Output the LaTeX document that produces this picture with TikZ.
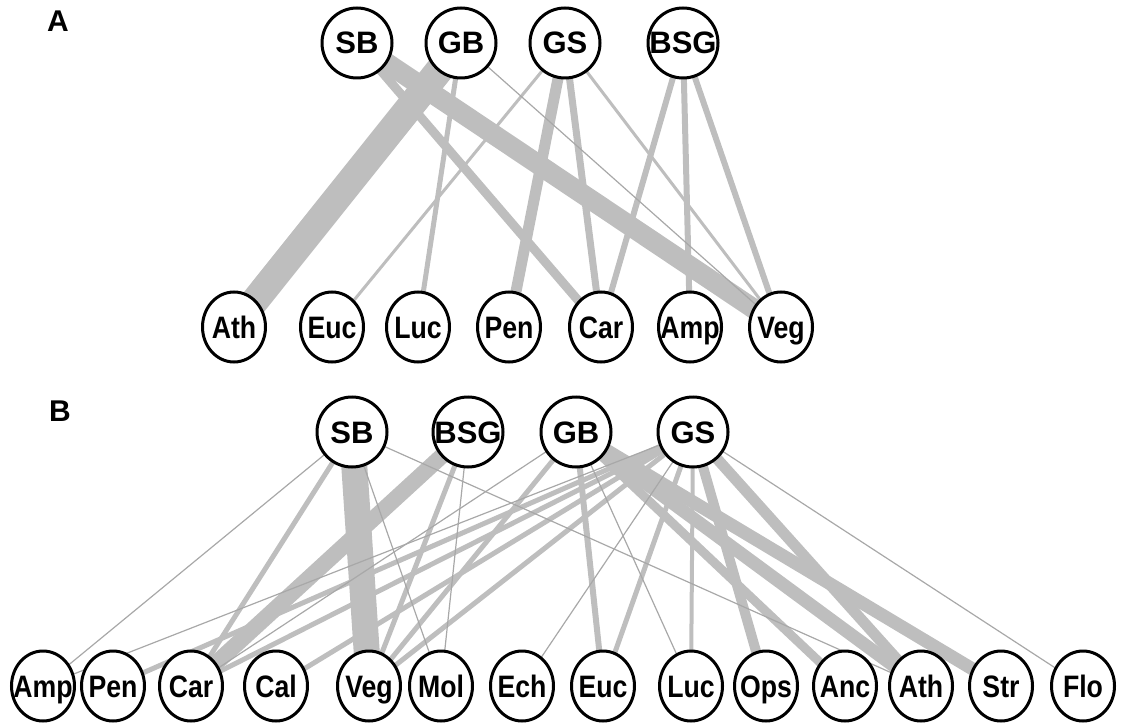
\documentclass[tikz,border=0pt]{standalone}
\usepackage{fontspec}
\setmainfont{Liberation Sans}
\usetikzlibrary{shapes.geometric}
\pgfdeclarelayer{background}
\pgfsetlayers{background,main}
\definecolor{edgegray}{HTML}{BEBEBE}
\definecolor{thingray}{HTML}{A8A8A8}
\newcommand\lab{\bfseries\fontsize{31}{33}\selectfont}
\newcommand\sq[1]{\makebox[0pt]{\scalebox{0.86}[1]{#1}}}
\newcommand\tp[1]{\makebox[0pt]{#1}}
\tikzset{
  topnode/.style={circle, draw=black, line width=3pt, fill=white, minimum size=70pt, inner sep=0pt, font=\lab, text height=22pt, text depth=0pt},
  botnode/.style={ellipse, draw=black, line width=3pt, fill=white, minimum width=63pt, minimum height=70pt, inner sep=0pt, font=\lab, text height=22pt, text depth=0pt},
  lnk/.style={draw=edgegray, line width=#1},
  thin lnk/.style={draw=thingray, line width=1.2pt},
  panellabel/.style={font=\bfseries\fontsize{30}{32}\selectfont, inner sep=0pt}
}
\begin{document}
\begin{tikzpicture}[x=1pt,y=-1pt]
\useasboundingbox (0,0) rectangle (1145,727);
\node[panellabel] (labA) at (58,21) {A};
\node[panellabel] (labB) at (60,411) {B};
% ---------- panel A ----------
\node[topnode] (aSB) at (357,43) {\tp{SB}};
\node[topnode] (aGB) at (461,43) {\tp{GB}};
\node[topnode] (aGS) at (565,43) {\tp{GS}};
\node[topnode] (aBSG) at (683,43) {\tp{BSG}};
\node[botnode] (aAth) at (234,327) {\sq{Ath}};
\node[botnode] (aEuc) at (332,327) {\sq{Euc}};
\node[botnode] (aLuc) at (418,327) {\sq{Luc}};
\node[botnode] (aPen) at (509,327) {\sq{Pen}};
\node[botnode] (aCar) at (601,327) {\sq{Car}};
\node[botnode] (aAmp) at (690,327) {\sq{Amp}};
\node[botnode] (aVeg) at (781,327) {\sq{Veg}};
% ---------- panel B ----------
\node[topnode] (bSB) at (352,432) {\tp{SB}};
\node[topnode] (bBSG) at (468,432) {\tp{BSG}};
\node[topnode] (bGB) at (576,432) {\tp{GB}};
\node[topnode] (bGS) at (693,432) {\tp{GS}};
\node[botnode] (bAmp) at (43,686) {\sq{Amp}};
\node[botnode] (bPen) at (113,686) {\sq{Pen}};
\node[botnode] (bCar) at (191,686) {\sq{Car}};
\node[botnode] (bCal) at (276,686) {\sq{Cal}};
\node[botnode] (bVeg) at (369,686) {\sq{Veg}};
\node[botnode] (bMol) at (441,686) {\sq{Mol}};
\node[botnode] (bEch) at (522,686) {\sq{Ech}};
\node[botnode] (bEuc) at (603,686) {\sq{Euc}};
\node[botnode] (bLuc) at (691,686) {\sq{Luc}};
\node[botnode] (bOps) at (766,686) {\sq{Ops}};
\node[botnode] (bAnc) at (845,686) {\sq{Anc}};
\node[botnode] (bAth) at (921,686) {\sq{Ath}};
\node[botnode] (bStr) at (1001,686) {\sq{Str}};
\node[botnode] (bFlo) at (1083,686) {\sq{Flo}};
\begin{pgfonlayer}{background}
% panel A edges
\draw[lnk=28pt] (aGB.center) -- (aAth.center);
\draw[lnk=20pt] (aSB.center) -- (aVeg.center);
\draw[lnk=9pt] (aSB.center) -- (aCar.center);
\draw[lnk=5pt] (aGB.center) -- (aLuc.center);
\draw[lnk=3pt] (aGS.center) -- (aEuc.center);
\draw[lnk=11pt] (aGS.center) -- (aPen.center);
\draw[lnk=7pt] (aGS.center) -- (aCar.center);
\draw[lnk=3pt] (aGS.center) -- (aVeg.center);
\draw[lnk=6pt] (aBSG.center) -- (aCar.center);
\draw[lnk=6pt] (aBSG.center) -- (aAmp.center);
\draw[lnk=6pt] (aBSG.center) -- (aVeg.center);
\draw[thin lnk] (aGB.center) -- (aVeg.center);
% panel B edges
\draw[lnk=26pt] (bSB.center) -- (bVeg.center);
\draw[lnk=5pt] (bSB.center) -- (bCar.center);
\draw[lnk=16pt] (bBSG.center) -- (bCar.center);
\draw[lnk=5pt] (bBSG.center) -- (bVeg.center);
\draw[lnk=13pt] (bGB.center) -- (bStr.center);
\draw[lnk=13pt] (bGB.center) -- (bAth.center);
\draw[lnk=9pt] (bGB.center) -- (bAnc.center);
\draw[lnk=6pt] (bGB.center) -- (bEuc.center);
\draw[lnk=5pt] (bGB.center) -- (bVeg.center);
\draw[lnk=11pt] (bGS.center) -- (bAth.center);
\draw[lnk=10pt] (bGS.center) -- (bOps.center);
\draw[lnk=5pt] (bGS.center) -- (bEuc.center);
\draw[lnk=4pt] (bGS.center) -- (bLuc.center);
\draw[lnk=5pt] (bGS.center) -- (bVeg.center);
\draw[lnk=5pt] (bGS.center) -- (bCal.center);
\draw[lnk=5pt] (bGS.center) -- (bCar.center);
\draw[lnk=5pt] (bGS.center) -- (bPen.center);
\draw[thin lnk] (bSB.center) -- (bAmp.center);
\draw[thin lnk] (bSB.center) -- (bMol.center);
\draw[thin lnk] (bSB.center) -- (bAth.center);
\draw[thin lnk] (bBSG.center) -- (bMol.center);
\draw[thin lnk] (bGB.center) -- (bCar.center);
\draw[thin lnk] (bGB.center) -- (bLuc.center);
\draw[thin lnk] (bGS.center) -- (bAmp.center);
\draw[thin lnk] (bGS.center) -- (bEch.center);
\draw[thin lnk] (bGS.center) -- (bFlo.center);
\end{pgfonlayer}
\end{tikzpicture}
\end{document}
